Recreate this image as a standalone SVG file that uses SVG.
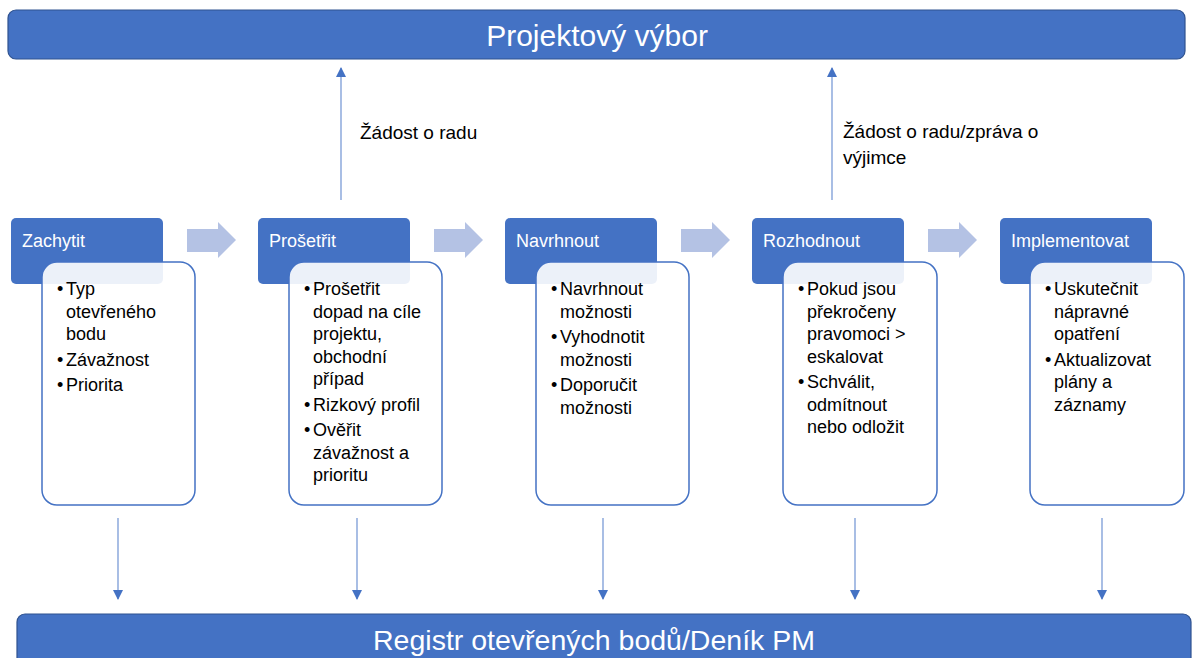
<svg xmlns="http://www.w3.org/2000/svg" width="1193" height="658" viewBox="0 0 1193 658">
  <style>
    .bar { fill: #4472C4; stroke: #2F528F; stroke-width: 1.2; }
    .bar-text { font-family: "Liberation Sans", Arial, sans-serif; fill: #ffffff; text-anchor: middle; }
    .head { fill: #4472C4; }
    .head-text { font-family: "Liberation Sans", Arial, sans-serif; font-size: 18px; fill: #ffffff; }
    .detail { fill: #ffffff; fill-opacity: 0.9; stroke: #4472C4; stroke-width: 1.5; }
    .detail-text { font-family: "Liberation Sans", Arial, sans-serif; font-size: 18px; fill: #000000; }
    .chevron { fill: #B4C2E4; }
    .link { stroke: #6F93D3; stroke-width: 1.2; fill: none; }
    .label { font-family: "Liberation Sans", Arial, sans-serif; font-size: 19px; fill: #000000; }
  </style>
  <defs>
    <marker id="tip" markerWidth="10" markerHeight="10" refX="9" refY="5" orient="auto" markerUnits="userSpaceOnUse">
      <path d="M0,0 L10,5 L0,10 Z" fill="#4472C4"/>
    </marker>
  </defs>

  <rect width="1193" height="658" fill="#ffffff"/>

  <!-- top committee bar -->
  <g id="projektovy-vybor">
    <rect class="bar" x="8" y="10" width="1177" height="49" rx="8"/>
    <text class="bar-text" x="597" y="46" font-size="30">Projektový výbor</text>
  </g>

  <!-- bottom register bar -->
  <g id="registr">
    <rect class="bar" x="17" y="614" width="1174" height="60" rx="8"/>
    <text class="bar-text" x="594" y="650" font-size="28.5">Registr otevřených bodů/Deník PM</text>
  </g>

  <!-- connectors -->
  <g id="connectors">
    <polygon class="chevron" points="187,229 218,229 218,222 236,240 218,258 218,252 187,252"/>
    <polygon class="chevron" points="434,229 465,229 465,222 483,240 465,258 465,252 434,252"/>
    <polygon class="chevron" points="681,229 712,229 712,222 730,240 712,258 712,252 681,252"/>
    <polygon class="chevron" points="928,229 959,229 959,222 977,240 959,258 959,252 928,252"/>

    <line class="link" x1="341" y1="200" x2="341" y2="68" marker-end="url(#tip)"/>
    <line class="link" x1="832" y1="200" x2="832" y2="68" marker-end="url(#tip)"/>

    <line class="link" x1="118" y1="518" x2="118" y2="599" marker-end="url(#tip)"/>
    <line class="link" x1="357" y1="518" x2="357" y2="599" marker-end="url(#tip)"/>
    <line class="link" x1="603" y1="518" x2="603" y2="599" marker-end="url(#tip)"/>
    <line class="link" x1="855" y1="518" x2="855" y2="599" marker-end="url(#tip)"/>
    <line class="link" x1="1102" y1="518" x2="1102" y2="599" marker-end="url(#tip)"/>

    <text class="label" x="360" y="139">Žádost o radu</text>
    <text class="label" x="843" y="138">Žádost o radu/zpráva o</text>
    <text class="label" x="843" y="164">výjimce</text>
  </g>

  <!-- step 1 -->
  <g id="zachytit">
    <rect class="head" x="11" y="218" width="152" height="66" rx="5"/>
    <text class="head-text" x="22" y="247">Zachytit</text>
    <rect class="detail" x="42" y="262" width="153" height="243" rx="15"/>
    <text class="detail-text">
      <tspan x="57" y="295">•</tspan><tspan x="66" y="295">Typ</tspan>
      <tspan x="66" y="317.5">otevřeného</tspan>
      <tspan x="66" y="340">bodu</tspan>
      <tspan x="57" y="365.5">•</tspan><tspan x="66" y="365.5">Závažnost</tspan>
      <tspan x="57" y="391">•</tspan><tspan x="66" y="391">Priorita</tspan>
    </text>
  </g>

  <!-- step 2 -->
  <g id="proseti">
    <rect class="head" x="258" y="218" width="152" height="66" rx="5"/>
    <text class="head-text" x="269" y="247">Prošetřit</text>
    <rect class="detail" x="289" y="262" width="153" height="243" rx="15"/>
    <text class="detail-text">
      <tspan x="304" y="295">•</tspan><tspan x="313" y="295">Prošetřit</tspan>
      <tspan x="313" y="317.5">dopad na cíle</tspan>
      <tspan x="313" y="340">projektu,</tspan>
      <tspan x="313" y="362.5">obchodní</tspan>
      <tspan x="313" y="385">případ</tspan>
      <tspan x="304" y="410.5">•</tspan><tspan x="313" y="410.5">Rizkový profil</tspan>
      <tspan x="304" y="436">•</tspan><tspan x="313" y="436">Ověřit</tspan>
      <tspan x="313" y="458.5">závažnost a</tspan>
      <tspan x="313" y="481">prioritu</tspan>
    </text>
  </g>

  <!-- step 3 -->
  <g id="navrhnout">
    <rect class="head" x="505" y="218" width="152" height="66" rx="5"/>
    <text class="head-text" x="516" y="247">Navrhnout</text>
    <rect class="detail" x="536" y="262" width="153" height="243" rx="15"/>
    <text class="detail-text">
      <tspan x="551" y="295">•</tspan><tspan x="560" y="295">Navrhnout</tspan>
      <tspan x="560" y="317.5">možnosti</tspan>
      <tspan x="551" y="343">•</tspan><tspan x="560" y="343">Vyhodnotit</tspan>
      <tspan x="560" y="365.5">možnosti</tspan>
      <tspan x="551" y="391">•</tspan><tspan x="560" y="391">Doporučit</tspan>
      <tspan x="560" y="413.5">možnosti</tspan>
    </text>
  </g>

  <!-- step 4 -->
  <g id="rozhodnout">
    <rect class="head" x="752" y="218" width="152" height="66" rx="5"/>
    <text class="head-text" x="763" y="247">Rozhodnout</text>
    <rect class="detail" x="783" y="262" width="154" height="243" rx="15"/>
    <text class="detail-text">
      <tspan x="798" y="295">•</tspan><tspan x="807" y="295">Pokud jsou</tspan>
      <tspan x="807" y="317.5">překročeny</tspan>
      <tspan x="807" y="340">pravomoci &gt;</tspan>
      <tspan x="807" y="362.5">eskalovat</tspan>
      <tspan x="798" y="388">•</tspan><tspan x="807" y="388">Schválit,</tspan>
      <tspan x="807" y="410.5">odmítnout</tspan>
      <tspan x="807" y="433">nebo odložit</tspan>
    </text>
  </g>

  <!-- step 5 -->
  <g id="implementovat">
    <rect class="head" x="1000" y="218" width="152" height="66" rx="5"/>
    <text class="head-text" x="1011" y="247">Implementovat</text>
    <rect class="detail" x="1030" y="262" width="154" height="243" rx="15"/>
    <text class="detail-text">
      <tspan x="1045" y="295">•</tspan><tspan x="1054" y="295">Uskutečnit</tspan>
      <tspan x="1054" y="317.5">nápravné</tspan>
      <tspan x="1054" y="340">opatření</tspan>
      <tspan x="1045" y="365.5">•</tspan><tspan x="1054" y="365.5">Aktualizovat</tspan>
      <tspan x="1054" y="388">plány a</tspan>
      <tspan x="1054" y="410.5">záznamy</tspan>
    </text>
  </g>
</svg>
